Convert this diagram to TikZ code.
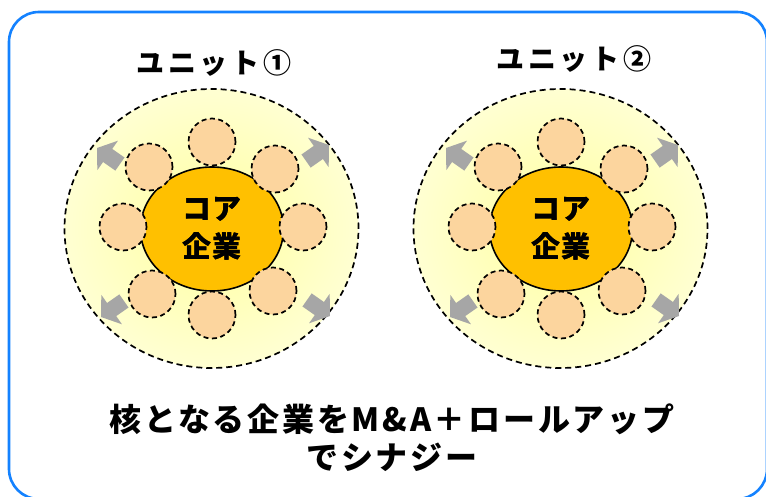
\documentclass[tikz,border=0pt]{standalone}
\usepackage{fontspec}
\newfontfamily\jptitle{Noto Sans CJK JP}[LetterSpace=13]
\newfontfamily\jpcore{Noto Sans CJK JP}[LetterSpace=5]
\newfontfamily\jpbottom{Noto Sans CJK JP}[LetterSpace=8.5]
\usetikzlibrary{shapes.geometric}
\definecolor{borderblue}{RGB}{20,130,255}
\definecolor{coreorange}{RGB}{255,192,0}
\definecolor{peach}{RGB}{252,213,158}
\definecolor{arrowgray}{RGB}{166,166,166}
\definecolor{ylin}{RGB}{255,255,160}
\definecolor{ylout}{RGB}{255,255,210}
\tikzset{
  outerring/.style={ellipse, draw=black, line width=1.7pt, dash pattern=on 6pt off 4pt,
    inner color=ylin, outer color=ylout, minimum width=294pt, minimum height=279pt, inner sep=0pt},
  corebox/.style={ellipse, draw=black, line width=1.6pt, fill=coreorange,
    minimum width=143pt, minimum height=124pt, inner sep=0pt, align=center,
    font=\jpcore\bfseries\fontsize{29}{38}\selectfont},
  member/.style={circle, draw=black, line width=1.7pt, dash pattern=on 5pt off 3.5pt,
    fill=peach, minimum size=47pt, inner sep=0pt},
  unittitle/.style={font=\jptitle\bfseries\fontsize{28}{32}\selectfont, inner sep=0pt},
  bottomtext/.style={font=\jpbottom\bfseries\fontsize{32}{38}\selectfont, align=center, inner sep=0pt},
  grayarrow/.style={fill=arrowgray, draw=none}
}
\newcommand\outarrow[3]{%
  \begin{scope}[shift={(#1,#2)}, rotate=#3]
    \fill[grayarrow] (0,0) -- (-13,18) -- (-13,8) -- (-28,8) -- (-28,-8) -- (-13,-8) -- (-13,-18) -- cycle;
  \end{scope}}
\newcommand\unit[4]{% #1 prefix, #2 cx, #3 cy, #4 title y
  \node[outerring] (#1outer) at (#2-0.5,#3-0.5) {};
  \outarrow{#2-115}{#3-81}{145}
  \outarrow{#2+117}{#3-84}{35}
  \outarrow{#2-111}{#3+88}{215}
  \outarrow{#2+118}{#3+87}{325}
  \node[corebox] (#1core) at (#2,#3) {コア\\企業};
  \node[member] (#1m1) at (#2,#3-87) {};
  \node[member] (#1m2) at (#2-63,#3-62) {};
  \node[member] (#1m3) at (#2+63,#3-60) {};
  \node[member] (#1m4) at (#2-89,#3-2) {};
  \node[member] (#1m5) at (#2+91,#3-2) {};
  \node[member] (#1m6) at (#2-60,#3+65) {};
  \node[member] (#1m7) at (#2,#3+86) {};
  \node[member] (#1m8) at (#2+61,#3+62) {};
  \node[corebox, draw=none, fill=none] (#1coretext) at (#2,#3) {コア\\企業};
}
\begin{document}
\begin{tikzpicture}[x=1pt, y=-1pt]
  \useasboundingbox (0,0) rectangle (766,497);
  \draw[borderblue, line width=2.6pt, rounded corners=30pt] (9,12) rectangle (767,499);
  \unit{a}{212}{229}{63}
  \unit{b}{561}{229}{59}
  \node[unittitle] (title1) at (214,63) {ユニット①};
  \node[unittitle] (title2) at (574,59) {ユニット②};
  \node[bottomtext] (summary) at (392,438) {核となる企業をM\&A＋ロールアップ\\でシナジー};
\end{tikzpicture}
\end{document}
